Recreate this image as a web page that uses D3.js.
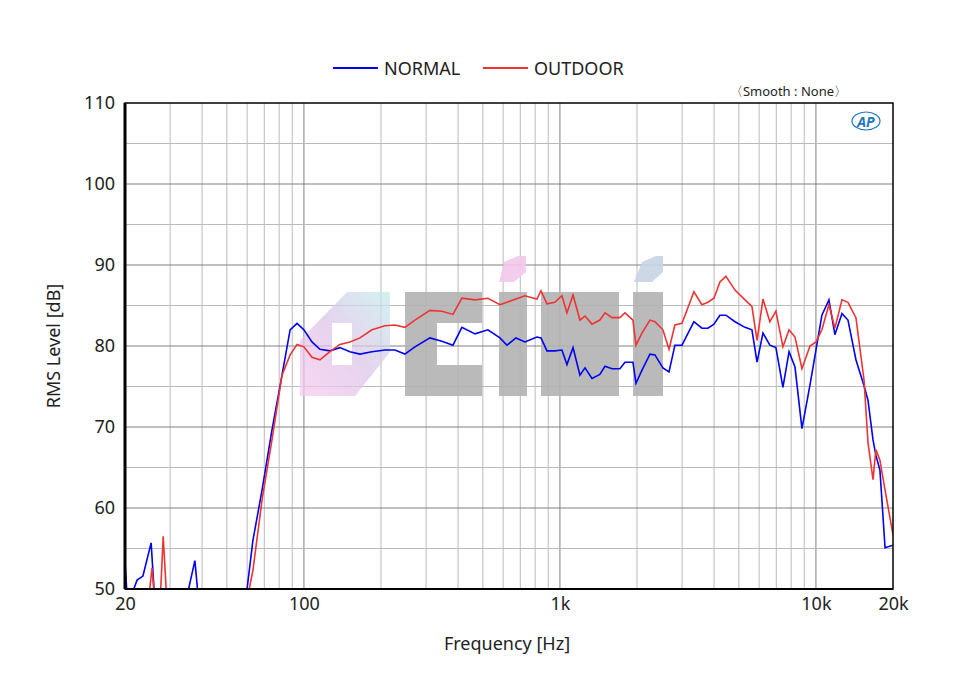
<!DOCTYPE html>
<html><head><meta charset="utf-8">
<script src="https://cdn.jsdelivr.net/npm/d3@7"></script>
<style>body{margin:0;background:#fff}text{font-family:"Noto Sans","DejaVu Sans",sans-serif}</style>
</head><body><svg id="c" width="960" height="680"></svg>
<script>
const freqNormal=[20,20.5,22.3,23.5,25.3,26.2,34.3,37.5,38.9,58.9,63.2,68.6,75.0,82.1,88.3,94.0,100,107.5,115.5,126.3,138.2,151.2,165.5,184.4,207.3,226.7,248,271.4,310.6,346,382,414,466,523,583,621,673,730,813,843,890,955,1018,1065,1125,1197,1253,1334,1432,1500,1597,1715,1795,1928,1982,2090,2247,2350,2525,2667,2813,2997,3337,3586,3784,3996,4217,4450,4829,5284,5623,5888,6210,6607,6977,7431,7852,8283,8818,9480,10000,10550,11240,11860,12640,13340,14330,15410,15970,16710,17150,17780,18620,20000];
const dbNormal=[53.3,48,51.1,51.6,55.7,48,48,53.5,48,48,56.0,62.2,69.6,76.4,82.0,82.8,82.0,80.5,79.6,79.4,79.8,79.3,79.0,79.3,79.5,79.5,79.0,79.9,81.0,80.6,80.1,82.3,81.5,82.0,81.0,80.1,81.0,80.5,81.1,81.0,79.4,79.4,79.5,77.7,79.8,76.4,77.3,76.0,76.5,77.5,77.2,77.2,78.0,78.0,75.4,77.0,79.0,78.9,77.3,76.8,80.1,80.1,83.0,82.2,82.2,82.7,83.8,83.8,83.0,82.3,82.0,78.0,81.6,80.1,79.8,74.9,79.3,77.4,69.8,75.2,79.5,83.8,85.7,81.4,84.0,83.2,78.3,75.1,73.3,68.4,66.5,64.7,55.1,55.4];
const freqOutdoor=[24.6,25.5,26.2,27.4,28.2,29.2,58.9,63.2,68.6,75.0,82.1,88.3,94.0,100,107.5,115.5,126.3,138.2,151.2,165.5,184.4,207.3,226.7,248,271.4,310.6,346,382,414,466,523,583,621,673,730,813,843,890,955,1018,1065,1125,1197,1253,1334,1432,1500,1597,1715,1795,1928,1982,2090,2247,2350,2525,2667,2813,2997,3337,3586,3784,3996,4217,4450,4829,5284,5623,5888,6210,6607,6977,7431,7852,8283,8818,9480,10000,10550,11240,11860,12640,13340,14330,15410,15970,16710,17150,17780,18620,20000];
const dbOutdoor=[48,52.6,48,48,56.5,48,47.4,52.3,61.0,68.4,76.4,78.9,80.2,79.9,78.6,78.3,79.3,80.2,80.5,81.0,82.0,82.5,82.6,82.3,83.2,84.4,84.3,83.9,85.9,85.7,85.9,85.1,85.4,85.8,86.2,85.8,86.8,85.2,85.4,86.2,84.1,86.3,83.2,83.7,82.7,83.2,84.1,83.5,83.5,84.1,83.2,80.1,81.6,83.2,83.0,82.0,79.6,82.6,82.8,86.7,85.1,85.4,85.9,87.9,88.6,86.9,85.7,84.9,80.7,85.8,83.0,84.3,79.9,82.0,81.1,77.2,80.0,80.5,82.0,85.1,82.2,85.7,85.4,83.5,75.8,68.1,63.5,67.2,65.9,62.2,56.7];
const yTicks=[50,60,70,80,90,100,110];
const xTickVals=[20,100,1000,10000,20000];
const xTickLabels=["20","100","1k","10k","20k"];
const seriesNames=["NORMAL","OUTDOOR"];
const colors=["#0000ee","#ee3333"];

const svg=d3.select("#c");
const L=125,R=893,T=103,B=589;
const x=d3.scaleLog().domain([20,20000]).range([L,R]);
const y=d3.scaleLinear().domain([50,110]).range([B,T]);

// grid
const minor=[];
for(let d=10;d<=10000;d*=10)for(let k=1;k<10;k++){const v=d*k;if(v>20&&v<20000)minor.push(v);}
svg.append("g").selectAll("line").data(minor).join("line")
 .attr("x1",d=>x(d)).attr("x2",d=>x(d)).attr("y1",T).attr("y2",B)
 .attr("stroke",d=>[100,1000,10000].includes(d)?"#808080":"#bbbbbb").attr("stroke-width",1);
const hl=d3.range(55,110,5);
svg.append("g").selectAll("line").data(hl).join("line")
 .attr("x1",L).attr("x2",R).attr("y1",d=>y(d)).attr("y2",d=>y(d))
 .attr("stroke",d=>d%10===0?"#808080":"#bbbbbb");

// watermark
const wm=svg.append("g").attr("opacity",0.9);
const defs=svg.append("defs");
const gr=defs.append("linearGradient").attr("id","g1").attr("x1","0").attr("y1","1").attr("x2","1").attr("y2","0");
gr.append("stop").attr("offset","0").attr("stop-color","#f8c8ee");
gr.append("stop").attr("offset","0.5").attr("stop-color","#dcc4e8");
gr.append("stop").attr("offset","1").attr("stop-color","#c4ecec");
wm.append("path").attr("d","M347,292 L390,292 L390,352 L355,396 L300,396 L300,340 Z").attr("fill","url(#g1)").attr("opacity",0.8);
wm.append("rect").attr("x",332).attr("y",323).attr("width",20).attr("height",42).attr("fill","#fff");
wm.append("path").attr("d","M405,292h78v30h-50v12h50v30h-78z M405,292v104h78v-32h-50v-12").attr("fill","none");
wm.append("path").attr("d","M405,292h77v31h-45v42h45v31h-77z").attr("fill","#b3b3b3");
wm.append("rect").attr("x",541).attr("y",292).attr("width",78).attr("height",104).attr("fill","#b3b3b3");
wm.append("rect").attr("x",633).attr("y",292).attr("width",30).attr("height",104).attr("fill","#b3b3b3");
wm.append("rect").attr("x",499).attr("y",292).attr("width",28).attr("height",104).attr("fill","#b3b3b3");
wm.append("path").attr("d","M504,262 L518,256 L526,256 L526,272 L514,282 L499,282 Z").attr("fill","#f3c8ec");
wm.append("path").attr("d","M642,262 L656,256 L663,256 L663,272 L652,282 L634,282 Z").attr("fill","#c8d4e4");

// lines
const clip=defs.append("clipPath").attr("id","pc");
clip.append("rect").attr("x",L).attr("y",T).attr("width",R-L).attr("height",B-T);
const line=d3.line().x(d=>x(d[0])).y(d=>y(d[1]));
const data=[d3.zip(freqNormal,dbNormal),d3.zip(freqOutdoor,dbOutdoor)];
svg.append("g").attr("clip-path","url(#pc)").selectAll("path").data(data).join("path")
 .attr("d",line).attr("fill","none").attr("stroke",(d,i)=>colors[i]).attr("stroke-width",1.6);

// frame
svg.append("rect").attr("x",L).attr("y",T).attr("width",R-L).attr("height",B-T).attr("fill","none").attr("stroke","#000").attr("stroke-width",1.5);
svg.append("line").attr("x1",L).attr("x2",L).attr("y1",T).attr("y2",B).attr("stroke","#000").attr("stroke-width",3);
svg.append("line").attr("x1",L).attr("x2",R).attr("y1",B).attr("y2",B).attr("stroke","#000").attr("stroke-width",2);

// axes
const ya=d3.axisLeft(y).tickValues(yTicks).tickSize(0).tickPadding(10);
svg.append("g").attr("transform",`translate(${L},0)`).call(ya).call(g=>g.select(".domain").remove())
 .selectAll("text").attr("font-size",18).attr("fill","#222").attr("font-family","Noto Sans, sans-serif");
const xa=d3.axisBottom(x).tickValues(xTickVals).tickFormat((d,i)=>xTickLabels[i]).tickSize(0).tickPadding(8);
svg.append("g").attr("transform",`translate(0,${B})`).call(xa).call(g=>g.select(".domain").remove())
 .selectAll("text").attr("font-size",18).attr("fill","#222").attr("font-family","Noto Sans, sans-serif");

svg.append("text").attr("x",507).attr("y",650).attr("text-anchor","middle").attr("font-size",18).attr("fill","#222").text("Frequency [Hz]");
svg.append("text").attr("transform","translate(60,346) rotate(-90)").attr("text-anchor","middle").attr("font-size",18).attr("fill","#222").text("RMS Level [dB]");

// legend
const lg=svg.append("g");
const lx=[333,483];
seriesNames.forEach((n,i)=>{
 lg.append("line").attr("x1",lx[i]).attr("x2",lx[i]+45).attr("y1",68).attr("y2",68).attr("stroke",colors[i]).attr("stroke-width",2);
 lg.append("text").attr("x",lx[i]+51).attr("y",75).attr("font-size",18).attr("fill","#222").text(n);
});
svg.append("text").attr("x",847).attr("y",96).attr("text-anchor","end").attr("font-size",13).attr("fill","#222").text("〈Smooth : None〉");
svg.append("text").attr("x",866).attr("y",127).attr("text-anchor","middle").attr("font-size",14).attr("font-style","italic").attr("font-weight","bold").attr("fill","#2277bb").text("AP");
svg.append("ellipse").attr("cx",866).attr("cy",121).attr("rx",14).attr("ry",9).attr("fill","none").attr("stroke","#2277bb").attr("stroke-width",1.2);
</script></body></html>
